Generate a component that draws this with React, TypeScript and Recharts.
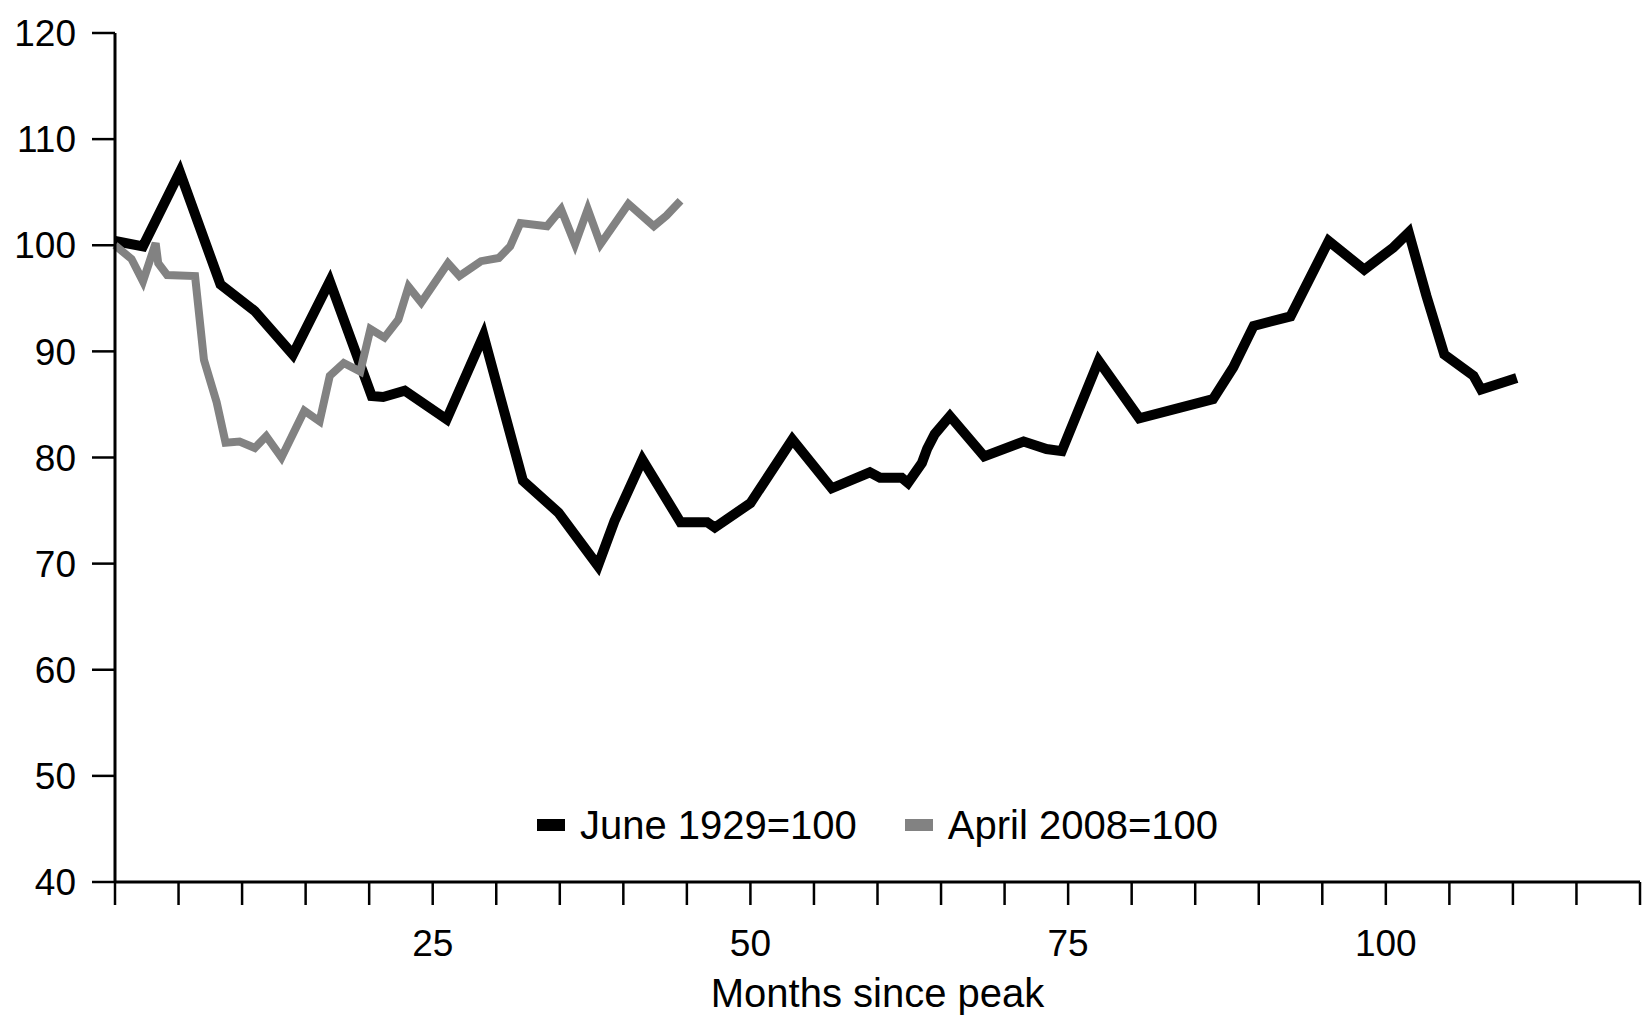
import { LineChart, Line, XAxis, YAxis, Legend, Label } from 'recharts';

// x axis: months since peak, tick every 5, labels only on a few
const monthTicks = [0, 5, 10, 15, 20, 25, 30, 35, 40, 45, 50, 55, 60, 65, 70, 75, 80, 85, 90, 95, 100, 105, 110, 115, 120];
const labelledMonths = [25, 50, 75, 100];
const indexTicks = [40, 50, 60, 70, 80, 90, 100, 110, 120];

const seriesNames = ['June 1929=100', 'April 2008=100'];

const months1929 = [
  0, 2.2, 5.1, 8.3, 11.0, 14.0, 16.9, 20.2, 21.1, 22.8, 26.1, 29.0, 32.1, 34.9, 38.0, 39.3, 41.5,
  44.5, 46.6, 47.2, 50.0, 53.3, 56.4, 59.4, 60.2, 61.9, 62.4, 63.5, 63.9, 64.5, 65.7, 68.4, 71.5,
  73.3, 74.5, 77.4, 80.6, 86.4, 88.0, 89.6, 92.5, 95.5, 98.3, 100.6, 101.8, 103.2, 104.6, 106.9,
  107.5, 110.3,
];
const values1929 = [
  100.4, 99.9, 106.9, 96.3, 93.8, 89.7, 96.6, 85.8, 85.7, 86.3, 83.6, 91.5, 77.8, 74.8, 69.8, 74.0,
  79.8, 73.9, 73.9, 73.4, 75.7, 81.7, 77.1, 78.6, 78.1, 78.1, 77.6, 79.5, 80.8, 82.2, 83.9, 80.1,
  81.5, 80.8, 80.6, 89.1, 83.7, 85.5, 88.5, 92.4, 93.3, 100.4, 97.7, 99.8, 101.2, 95.2, 89.7, 87.7,
  86.4, 87.5,
];

const months2008 = [
  0, 1.3, 2.2, 3.2, 3.4, 4.1, 6.3, 7.0, 8.0, 8.7, 9.8, 11.0, 11.9, 13.1, 14.9, 16.1, 16.9, 18.0,
  19.3, 20.1, 21.2, 22.3, 23.1, 24.1, 26.2, 27.1, 28.8, 30.2, 31.1, 31.9, 34.0, 35.1, 36.2, 37.2,
  38.2, 40.4, 42.4, 43.4, 44.5,
];
const values2008 = [
  100, 98.7, 96.6, 100.2, 98.3, 97.2, 97.1, 89.2, 85.2, 81.4, 81.5, 80.9, 82.0, 80.0, 84.4, 83.4,
  87.7, 88.9, 88.1, 92.1, 91.3, 93.0, 96.1, 94.6, 98.3, 97.1, 98.5, 98.8, 99.9, 102.1, 101.8, 103.4,
  100.1, 103.4, 100.1, 103.9, 101.8, 102.8, 104.2,
];

const data1929 = months1929.map((month, i) => ({ month, value: values1929[i] }));
const data2008 = months2008.map((month, i) => ({ month, value: values2008[i] }));

const FONT = '"Liberation Sans", Arial, Helvetica, sans-serif';
const BLACK = '#000000';
const GREY = '#828282';
const seriesColors = [BLACK, GREY];

// legend drawn in the same order as the reference (1929 first)
function LegendContent() {
  return (
    <div
      style={{
        display: 'flex',
        justifyContent: 'center',
        alignItems: 'center',
        height: 50,
        fontFamily: FONT,
        fontSize: 40,
        color: '#000',
      }}
    >
      {seriesNames.map((name, i) => (
        <div key={name} style={{ display: 'flex', alignItems: 'center', marginLeft: i === 0 ? 0 : 48 }}>
          <span style={{ display: 'inline-block', width: 28, height: 12, background: seriesColors[i], marginRight: 15 }} />
          <span>{name}</span>
        </div>
      ))}
    </div>
  );
}

export default function App() {
  return (
    <div style={{ position: 'absolute', top: 0, left: 0, width: 1650, height: 1015, background: '#fff', fontFamily: FONT }}>
      <LineChart width={1650} height={1015} margin={{ top: 33, right: 10, bottom: 0, left: 0 }}>
        <XAxis
          type="number"
          dataKey="month"
          domain={[0, 120]}
          ticks={monthTicks}
          interval={0}
          tickFormatter={(v: number) => (labelledMonths.includes(v) ? String(v) : '')}
          height={133}
          tickSize={23}
          tickMargin={25}
          axisLine={{ stroke: BLACK, strokeWidth: 3 }}
          tickLine={{ stroke: BLACK, strokeWidth: 2.5 }}
          tick={{ fill: BLACK, fontSize: 37, fontFamily: FONT }}
        >
          <Label
            value="Months since peak"
            position="insideBottom"
            offset={8}
            style={{ fontSize: 40, fill: BLACK, fontFamily: FONT }}
          />
        </XAxis>
        <YAxis
          type="number"
          domain={[40, 120]}
          ticks={indexTicks}
          interval={0}
          width={115}
          tickSize={23}
          tickMargin={16}
          axisLine={{ stroke: BLACK, strokeWidth: 3 }}
          tickLine={{ stroke: BLACK, strokeWidth: 2.5 }}
          tick={{ fill: BLACK, fontSize: 37, fontFamily: FONT }}
        />
        <Legend
          layout="horizontal"
          verticalAlign="middle"
          align="center"
          content={<LegendContent />}
          wrapperStyle={{ top: 800, left: 115, width: 1525, height: 50 }}
        />
        <Line
          data={data1929}
          dataKey="value"
          name={seriesNames[0]}
          stroke={BLACK}
          strokeWidth={10}
          strokeLinejoin="miter"
          dot={false}
          activeDot={false}
          isAnimationActive={false}
        />
        <Line
          data={data2008}
          dataKey="value"
          name={seriesNames[1]}
          stroke={GREY}
          strokeWidth={8}
          strokeLinejoin="miter"
          dot={false}
          activeDot={false}
          isAnimationActive={false}
        />
      </LineChart>
    </div>
  );
}
